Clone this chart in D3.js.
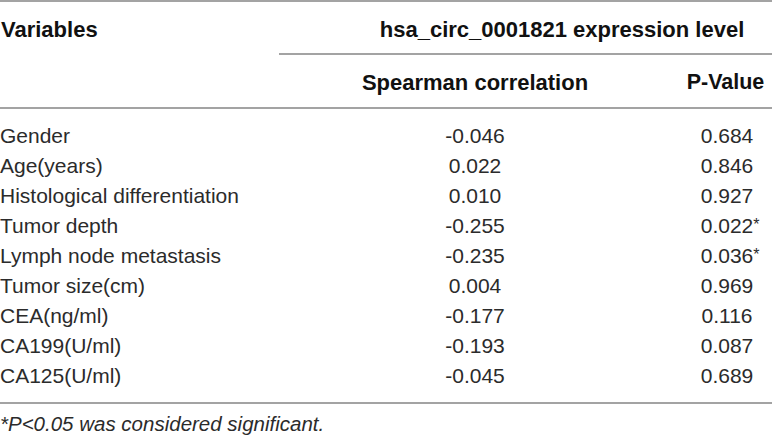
<!DOCTYPE html>
<html>
<head>
<meta charset="utf-8">
<script src="https://cdn.jsdelivr.net/npm/d3@7"></script>
<style>
  body { margin: 0; background: #fff; }
  text { font-family: "Liberation Sans", Arial, sans-serif; }
</style>
</head>
<body>
<div id="table"></div>
<script>
const variables = [
  "Gender", "Age(years)", "Histological differentiation", "Tumor depth",
  "Lymph node metastasis", "Tumor size(cm)", "CEA(ng/ml)", "CA199(U/ml)", "CA125(U/ml)"
];
const spearman = ["-0.046", "0.022", "0.010", "-0.255", "-0.235", "0.004", "-0.177", "-0.193", "-0.045"];
const pValues = ["0.684", "0.846", "0.927", "0.022", "0.036", "0.969", "0.116", "0.087", "0.689"];
const significant = [false, false, false, true, true, false, false, false, false];

const headerVar = "Variables";
const headerGroup = "hsa_circ_0001821 expression level";
const headerCols = ["Spearman correlation", "P-Value"];
const footnote = "*P<0.05 was considered significant.";

const width = 772, height = 435;

const svg = d3.select("#table").append("svg")
  .attr("width", width)
  .attr("height", height);

// rows on a point scale, first row at 135, last at 375
const y = d3.scalePoint()
  .domain(d3.range(variables.length))
  .range([135, 375]);

const colX = { spear: 475, p: 727 };
const lineColor = "#a3a3a3";
const textColor = "#2b2b2b";
const fs = 21;

function hline(x1, x2, yy) {
  svg.append("line")
    .attr("x1", x1).attr("x2", x2)
    .attr("y1", yy).attr("y2", yy)
    .attr("stroke", lineColor)
    .attr("stroke-width", 2);
}

hline(0, width, 1);
hline(279, width, 54);
hline(0, width, 108);
hline(0, width, 403);

// header
const head = svg.append("g")
  .attr("font-weight", "bold")
  .attr("font-size", 22)
  .attr("fill", "#111")
  .attr("dominant-baseline", "central");

head.append("text").attr("x", 1).attr("y", 29).text(headerVar);
head.append("text").attr("x", 562).attr("y", 29).attr("text-anchor", "middle").text(headerGroup);
head.append("text").attr("x", colX.spear).attr("y", 82).attr("text-anchor", "middle").text(headerCols[0]);
head.append("text").attr("x", 725.5).attr("y", 82).attr("text-anchor", "middle").attr("font-size", 21.5).text(headerCols[1]);

// body rows
const rows = svg.append("g")
  .attr("font-size", fs)
  .attr("fill", textColor)
  .selectAll("g")
  .data(variables.map((v, i) => ({ v, s: spearman[i], p: pValues[i], sig: significant[i], i })))
  .join("g")
  .attr("transform", d => `translate(0,${y(d.i)})`);

rows.append("text")
  .attr("x", 0)
  .attr("dominant-baseline", "central")
  .text(d => d.v);

rows.append("text")
  .attr("x", colX.spear)
  .attr("text-anchor", "middle")
  .attr("dominant-baseline", "central")
  .text(d => d.s);

const pText = rows.append("text")
  .attr("x", colX.p)
  .attr("text-anchor", "middle")
  .attr("dominant-baseline", "central")
  .text(d => d.p);

// star right after the centred number, top aligned with the digits
pText.each(function (d) {
  if (!d.sig) return;
  const w = this.getComputedTextLength();
  d3.select(this.parentNode).append("text")
    .attr("x", colX.p + w / 2)
    .attr("y", 5)
    .attr("font-size", 16)
    .text("*");
});

svg.append("text")
  .attr("x", 0)
  .attr("y", 423)
  .attr("font-size", 20.5)
  .attr("font-style", "italic")
  .attr("fill", textColor)
  .attr("dominant-baseline", "central")
  .text(footnote);
</script>
</body>
</html>
